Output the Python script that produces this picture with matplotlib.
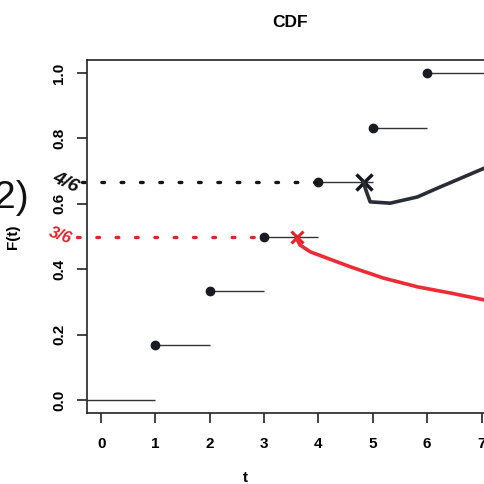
import numpy as np
import matplotlib.pyplot as plt

plt.rcParams['font.family'] = ['Liberation Sans', 'DejaVu Sans']

# empirical CDF of t = 1..6
t_jumps = [1, 2, 3, 4, 5, 6]
F_vals = [1/6, 2/6, 3/6, 4/6, 5/6, 6/6]
x_ticks = [0, 1, 2, 3, 4, 5, 6, 7]
y_ticks = [0.0, 0.2, 0.4, 0.6, 0.8, 1.0]

# handwritten notes on the scan
mark_black = (4.83, 4/6)
mark_red = (3.61, 3/6)
curve_black_x = [4.83, 4.86, 4.95, 5.32, 5.82, 6.19, 6.67, 7.05, 7.4]
curve_black_y = [0.667, 0.648, 0.606, 0.602, 0.621, 0.648, 0.682, 0.709, 0.73]
curve_red_x = [3.61, 3.66, 3.85, 4.59, 5.19, 5.82, 6.43, 7.05, 7.4]
curve_red_y = [0.49, 0.474, 0.453, 0.407, 0.373, 0.346, 0.327, 0.306, 0.30]

fig = plt.figure(figsize=(4.84, 4.84), dpi=100)
ax = fig.add_axes([87/484, 71/484, 463/484, 353/484])
ax.set_xlim(-0.26, 8.26)
ax.set_ylim(-0.04, 1.04)

# step function
ax.hlines(0, -0.26, t_jumps[0], color='#333333', lw=1.0)
ends = t_jumps[1:] + [8.0]
ax.hlines(F_vals, t_jumps, ends, color='#333333', lw=1.0)
ax.plot(t_jumps, F_vals, 'o', color='#1a1a22', ms=6)

# handwritten dotted guides
ax.plot([-0.35, 4], [4/6, 4/6], color='#151515', lw=2.4, ls=(0, (0.8, 5)),
        clip_on=False, dash_capstyle='round')
ax.plot([-0.45, 3], [3/6, 3/6], color='#e8202a', lw=2.4, ls=(0, (0.8, 5)),
        clip_on=False, dash_capstyle='round')
ax.plot(*mark_black, marker='x', color='#151520', ms=11, mew=2.5)
ax.plot(*mark_red, marker='x', color='#e8202a', ms=9, mew=2.2)
ax.plot(curve_black_x, curve_black_y, color='#2a2d35', lw=2.6)
ax.plot(curve_red_x, curve_red_y, color='#ee2a35', lw=2.6)

fig.text(66/484, 1 - 183/484, '4/6', fontsize=14, style='italic', weight='bold',
         color='#111111', rotation=-25, ha='center', va='center')
fig.text(60/484, 1 - 236/484, '3/6', fontsize=12, style='italic', weight='bold',
         color='#e8202a', rotation=-20, ha='center', va='center')
fig.text(-6/484, 1 - 198/484, '2)', fontsize=28, color='#111111',
         ha='left', va='center')

ax.set_xticks(x_ticks)
ax.set_yticks(y_ticks)
ax.set_yticklabels([f'{v:.1f}' for v in y_ticks], rotation=90, va='center')
ax.tick_params(axis='both', labelsize=11, length=7, width=1.2, color='#222222')
ax.tick_params(axis='x', pad=10)
ax.tick_params(axis='y', pad=8)
for lab in ax.get_xticklabels() + ax.get_yticklabels():
    lab.set_fontweight('bold')
for s in ax.spines.values():
    s.set_linewidth(1.2)
    s.set_color('#222222')

ax.set_title('CDF', fontsize=12.5, weight='bold', x=(290 - 87)/463, y=(413 - 22)/353,
             va='center', pad=0)
ax.set_ylabel('F(t)', fontsize=11, weight='bold')
ax.yaxis.set_label_coords((20 - 87)/463, 0.5)
ax.set_xlabel('t', fontsize=11, weight='bold', va='center')
ax.xaxis.set_label_coords((245 - 87)/463, -(478 - 413)/353)

fig.savefig('out.png', dpi=100)
